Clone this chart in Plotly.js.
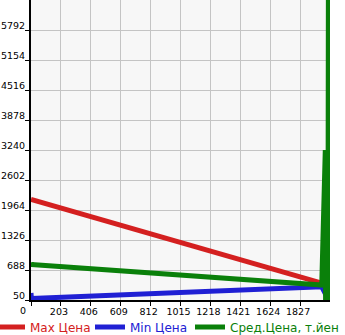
<!DOCTYPE html>
<html>
<head>
<meta charset="utf-8">
<script src="https://cdn.plot.ly/plotly-3.0.1.min.js"></script>
<style>html,body{margin:0;padding:0;background:#fff;}#chart{width:345px;height:335px;}</style>
</head>
<body>
<div id="chart"></div>
<script>
// Data
var maxX = [0, 1974];
var maxY = [2190, 410];
var minX = [0, 2, 1974, 2019];
var minY = [200, 82, 330, 60];
var avgX = [0, 2, 1974, 1998, 2000, 2016, 2019];
var avgY = [850, 805, 370, 3240, 50, 50, 6600];
var xTicks = [0, 203, 406, 609, 812, 1015, 1218, 1421, 1624, 1827];
var yTicks = [50, 688, 1326, 1964, 2602, 3240, 3878, 4516, 5154, 5792];
var names = ['Max Цена', 'Min Цена', 'Сред.Цена, т.йен'];

var colors = ['#d42020', '#2020d4', '#0a800a'];
var legendIds = ['legend', 'legend', 'legend2'];
var traces = [
  {x: maxX, y: maxY, mode: 'lines', line: {color: colors[0], width: 5}},
  {x: minX, y: minY, mode: 'lines', line: {color: colors[1], width: 5}},
  {x: avgX, y: avgY, mode: 'lines', line: {color: colors[2], width: 5}}
].map(function(t, i){
  t.name = '<span style="color:' + colors[i] + '">' + names[i] + '</span>';
  t.hoverinfo = 'skip';
  t.legend = legendIds[i];
  return t;
});

var tickFont = {family: 'DejaVu Sans', size: 9.5, color: '#000'};
var legendFont = {family: 'DejaVu Sans', size: 12};
var layout = {
  width: 345, height: 335,
  margin: {l: 31, r: 15, t: 0, b: 35, pad: 0, autoexpand: false},
  paper_bgcolor: '#ffffff',
  plot_bgcolor: '#f7f7f7',
  font: {family: 'DejaVu Sans', size: 10, color: '#000'},
  showlegend: true,
  legend: {
    orientation: 'h', xref: 'paper', yref: 'paper',
    x: -41/299, xanchor: 'left', y: -27/300, yanchor: 'middle',
    font: legendFont, bgcolor: 'rgba(0,0,0,0)',
    entrywidth: 55, entrywidthmode: 'pixels', itemclick: false
  },
  legend2: {
    orientation: 'h', xref: 'paper', yref: 'paper',
    x: (190-31)/299, xanchor: 'left', y: -27/300, yanchor: 'middle',
    font: legendFont, bgcolor: 'rgba(0,0,0,0)', itemclick: false
  },
  xaxis: {
    range: [0, 2030], tickmode: 'array', tickvals: xTicks,
    ticktext: xTicks.map(function(v){ return v === 0 ? '' : String(v); }),
    showgrid: true, gridcolor: '#c4c4c4', gridwidth: 1,
    showline: true, linecolor: '#000', linewidth: 2,
    ticks: 'outside', ticklen: 4, tickcolor: '#000', tickwidth: 1,
    ticklabelstandoff: -2, ticklabelshift: -2,
    zeroline: false, fixedrange: true, automargin: false,
    tickfont: tickFont
  },
  yaxis: {
    range: [50, 6430], tickmode: 'array', tickvals: yTicks,
    ticktext: yTicks.map(String),
    showgrid: true, gridcolor: '#c4c4c4', gridwidth: 1,
    showline: true, linecolor: '#000', linewidth: 2,
    ticks: 'outside', ticklen: 4, tickcolor: '#000', tickwidth: 1,
    ticklabelshift: -4, ticklabelstandoff: -2,
    zeroline: false, fixedrange: true, automargin: false,
    tickfont: tickFont
  },
  annotations: [{
    xref: 'paper', yref: 'paper', x: -8/299, y: -10/300,
    xanchor: 'center', yanchor: 'middle', showarrow: false,
    text: String(xTicks[0]), font: tickFont
  }]
};

Plotly.newPlot('chart', traces, layout, {staticPlot: true, displayModeBar: false});
</script>
</body>
</html>
